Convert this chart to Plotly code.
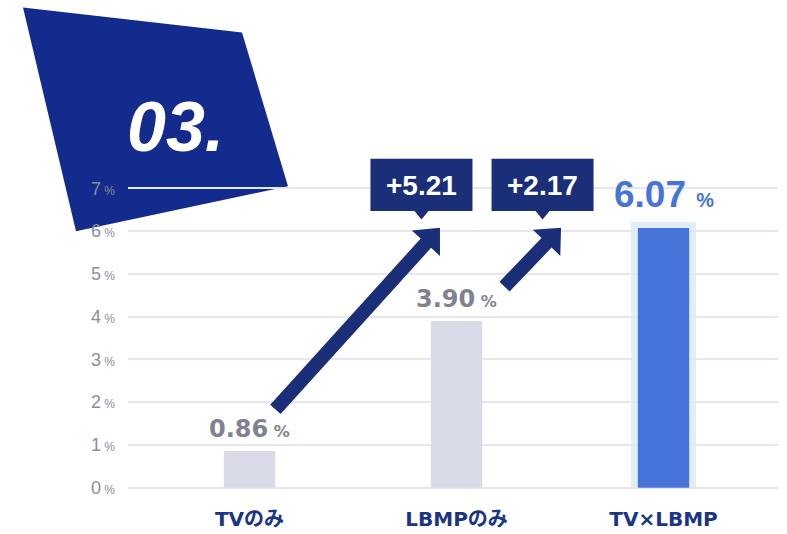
import math
import plotly.graph_objects as go

# ---------------- data ----------------
categories = ["TVのみ", "LBMPのみ", "TV×LBMP"]
values = [0.86, 3.90, 6.07]
value_labels = ["0.86", "3.90", "6.07"]
ytick_vals = [0, 1, 2, 3, 4, 5, 6, 7]
ytick_labels = [str(v) for v in ytick_vals]
diff_labels = ["+5.21", "+2.17"]
arrow_start = [(0.125, 1.83), (1.232, 4.70)]
arrow_end = [(0.920, 6.08), (1.505, 6.08)]
badge_text = "03."

# ---------------- geometry ----------------
W, H = 787, 534
L, R = 128, 9
T, B = 183.71, 41.71
XR = [-0.587, 2.553]
YR = [-0.1, 7.1]
PW = W - L - R
PH = H - T - B

NAVY = "#1a2f78"
BADGE = "#132b8c"
GRAY_TXT = "#80838f"
GRID = "#e6e6f1"
LIGHT_BAR = "#d9dbe9"
BLUE = "#4774d9"
HALO = "#dfeef8"


def d2px(x, y):
    px = L + (x - XR[0]) / (XR[1] - XR[0]) * PW
    py = T + (YR[1] - y) / (YR[1] - YR[0]) * PH
    return px, py


def px2paper(px, py):
    return (px - L) / PW, (H - B - py) / PH


def path_from_px(pts):
    s = ""
    for i, (px, py) in enumerate(pts):
        x, y = px2paper(px, py)
        s += ("M" if i == 0 else "L") + f"{x:.5f},{y:.5f} "
    return s + "Z"


shapes = []
annotations = []

# badge parallelogram (decoration)
badge_px = [(23, 7), (242, 32), (288, 186), (76, 231)]
shapes.append(dict(type="path", xref="paper", yref="paper", path=path_from_px(badge_px),
                   fillcolor=BADGE, line=dict(width=0), layer="below"))
annotations.append(dict(xref="paper", yref="paper", x=px2paper(175, 0)[0], y=px2paper(0, 127)[1],
                        text=badge_text, showarrow=False, xanchor="center", yanchor="middle",
                        font=dict(family="Liberation Sans", size=70, color="white",
                                  weight="bold", style="italic")))

# halo behind highlighted bar
hx0, hy0 = d2px(2 - 0.157, 0)
hx1, hy1 = d2px(2 + 0.157, values[2])
shapes.append(dict(type="path", xref="paper", yref="paper",
                   path=path_from_px([(hx0, hy0), (hx1, hy0), (hx1, hy1 - 6), (hx0, hy1 - 6)]),
                   fillcolor=HALO, line=dict(width=0), layer="between"))

# arrows
SHAFT = 7
HEAD_W = 19
HEAD_L = 21
for (sx, sy), (ex, ey), lab in zip(arrow_start, arrow_end, diff_labels):
    ax, ay = d2px(sx, sy)
    tx, ty = d2px(ex, ey)
    dx, dy = tx - ax, ty - ay
    ln = math.hypot(dx, dy)
    ux, uy = dx / ln, dy / ln
    nx, ny = -uy, ux
    bx, by = tx - HEAD_L * ux, ty - HEAD_L * uy
    pts = [(ax + SHAFT * nx, ay + SHAFT * ny), (bx + SHAFT * nx, by + SHAFT * ny),
           (bx + HEAD_W * nx, by + HEAD_W * ny), (tx, ty),
           (bx - HEAD_W * nx, by - HEAD_W * ny), (bx - SHAFT * nx, by - SHAFT * ny),
           (ax - SHAFT * nx, ay - SHAFT * ny)]
    shapes.append(dict(type="path", xref="paper", yref="paper", path=path_from_px(pts),
                       fillcolor=NAVY, line=dict(width=0), layer="above"))
    # callout box
    cx = tx - 18.5
    top, bot = 158.3, 210.7
    box = [(cx - 51, top), (cx + 51, top), (cx + 51, bot), (cx + 7, bot), (cx, bot + 8.5),
           (cx - 7, bot), (cx - 51, bot)]
    shapes.append(dict(type="path", xref="paper", yref="paper", path=path_from_px(box),
                       fillcolor=NAVY, line=dict(width=0), layer="above"))
    annotations.append(dict(xref="paper", yref="paper", x=px2paper(cx, 0)[0],
                            y=px2paper(0, (top + bot) / 2 + 1)[1], text=lab, showarrow=False,
                            xanchor="center", yanchor="middle",
                            font=dict(family="Liberation Sans", size=28, color="white", weight="bold")))

# value labels
for i, (v, lab) in enumerate(zip(values, value_labels)):
    if i == 2:
        txt = f"{lab} <span style='font-size:20px'>%</span>"
        annotations.append(dict(x=i, y=v, xref="x", yref="y", text=txt, showarrow=False,
                                xanchor="center", yanchor="bottom", yshift=11,
                                font=dict(family="Liberation Sans", size=37, color=BLUE, weight="bold")))
    else:
        txt = f"{lab}<span style='font-size:16px'> %</span>"
        annotations.append(dict(x=i, y=v, xref="x", yref="y", text=txt, showarrow=False,
                                xanchor="center", yanchor="bottom", yshift=6,
                                font=dict(family="DejaVu Sans", size=24, color=GRAY_TXT, weight="bold")))

fig = go.Figure()
fig.add_trace(go.Bar(x=[0, 1, 2], y=values, width=0.248,
                     marker=dict(color=[LIGHT_BAR, LIGHT_BAR, BLUE], line=dict(width=0)),
                     hoverinfo="skip"))

fig.update_layout(
    width=W, height=H,
    margin=dict(l=L, r=R, t=T, b=B, pad=0, autoexpand=False),
    paper_bgcolor="white", plot_bgcolor="white",
    showlegend=False,
    shapes=shapes, annotations=annotations,
    xaxis=dict(range=XR, tickvals=[0, 1, 2], ticktext=categories, showgrid=False,
               zeroline=False, showline=False, ticks="", ticklabelstandoff=13, automargin=False,
               tickfont=dict(family="DejaVu Sans, Noto Sans CJK JP", size=20,
                             color="#1c3582", weight="bold")),
    yaxis=dict(range=YR, tickvals=ytick_vals,
               ticktext=[f"{t}<span style='font-size:12px'> %</span>" for t in ytick_labels],
               showgrid=True, gridcolor=GRID, gridwidth=1.6, zeroline=False, showline=False,
               ticks="", ticklabelstandoff=12, automargin=False,
               tickfont=dict(family="Liberation Sans", size=18, color="#8b8e9a")),
)

post = (
    "document.documentElement.style.margin='0';"
    "document.documentElement.style.overflow='hidden';"
    "document.body.style.margin='0';"
    "document.body.style.overflow='hidden';"
    "document.body.style.height='534px';"
    "var gd=document.getElementById('{plot_id}');"
    "gd.style.display='block';"
    "gd.parentElement.style.height='534px';"
    "gd.parentElement.style.overflow='hidden';"
)
fig.write_html("out.html", config={"displayModeBar": False}, post_script=post)
